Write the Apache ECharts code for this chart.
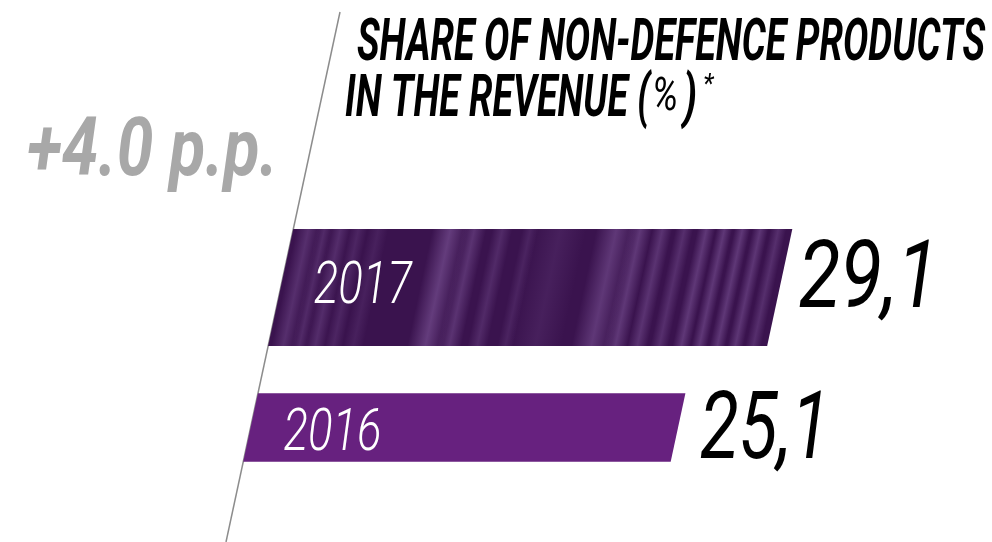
<!DOCTYPE html>
<html>
<head>
<meta charset="utf-8">
<script src="https://cdn.jsdelivr.net/npm/echarts@6/dist/echarts.min.js"></script>
<style>
    html, body { margin: 0; background: #fff; }
    #share-chart { width: 992px; height: 542px; }
</style>
</head>
<body>
<div id="share-chart"></div>
<script>
    // data
    var years = ['2016', '2017'];
    var shares = [25.1, 29.1];
    var shareLabels = ['25,1', '29,1'];
    var changeLabel = '+4.0 p.p.';
    var titleTop = 'SHARE OF NON-DEFENCE PRODUCTS';
    var titleBottom = 'IN THE REVENUE (';

    // look
    var slant = 0.215;          // px of x shift per px of y
    var yRef = 393;             // y where the slanted line meets grid.left
    var barRatio = [0.49, 0.836];
    var yearDy = [7, 0];
    var valueDy = [7, -4];
    var valueWidth = [130, 140];
    var barColor = '#67217f';

    var measureCtx = document.createElement('canvas').getContext('2d');
    function squeeze(text, font, width) {
        measureCtx.font = font;
        return width / measureCtx.measureText(text).width;
    }

    // textured fill for the 2017 bar (soft light folds on dark purple)
    function makeTexture() {
        var c = document.createElement('canvas');
        c.width = 992; c.height = 542;
        var ctx = c.getContext('2d');
        ctx.fillStyle = '#3a134e';
        ctx.fillRect(0, 0, 992, 542);
        var stripes = [
            [296, 12, 0.3], [312, 8, 0.25], [328, 10, 0.28], [346, 9, 0.2], [366, 10, 0.15],
            [438, 18, 0.45], [462, 12, 0.35], [490, 10, 0.25], [518, 8, 0.18], [548, 26, 0.14],
            [604, 20, 0.4], [628, 12, 0.4], [650, 10, 0.35], [672, 9, 0.3], [694, 9, 0.4],
            [712, 8, 0.4], [730, 8, 0.4], [748, 8, 0.38], [766, 8, 0.3]
        ];
        ctx.save();
        // skew so stripes lean like the bar edges
        ctx.transform(1, 0, -slant, 1, slant * 287, 0);
        stripes.forEach(function (s) {
            var g = ctx.createLinearGradient(s[0] - s[1], 0, s[0] + s[1], 0);
            g.addColorStop(0, 'rgba(150,110,180,0)');
            g.addColorStop(0.5, 'rgba(150,110,180,' + s[2] + ')');
            g.addColorStop(1, 'rgba(150,110,180,0)');
            ctx.fillStyle = g;
            ctx.fillRect(s[0] - s[1], 220, s[1] * 2, 136);
        });
        ctx.restore();
        return c;
    }
    var texture = makeTexture();

    var yearFont = 'italic 300 60px Roboto, "Noto Sans", sans-serif';
    var valueFont = 'italic 400 94px Roboto, "Noto Sans", sans-serif';
    var titleFont = 'italic 700 59px Roboto, "Noto Sans", sans-serif';
    var changeFont = 'italic 700 82px Roboto, "Noto Sans", sans-serif';

    function renderBar(params, api) {
        var idx = api.value(0);
        var val = api.value(1);
        var start = api.coord([0, idx]);
        var end = api.coord([val, idx]);
        var h = api.size([0, 1])[1] * barRatio[idx];
        var yc = start[1], top = yc - h / 2, bot = yc + h / 2;
        function sx(x, y) { return x + slant * (yRef - y); }
        var pts = [
            [sx(start[0], top), top], [sx(end[0], top) - 3 * (1 - idx), top],
            [sx(end[0], bot) - 3 * (1 - idx), bot], [sx(start[0], bot), bot]
        ];
        var fill = idx === 1 ? {image: texture, repeat: 'no-repeat'} : barColor;
        return {
            type: 'group',
            children: [
                {type: 'polygon', shape: {points: pts}, style: {fill: fill}},
                {
                    type: 'text', x: sx(start[0], yc) + 33, y: yc + yearDy[idx],
                    scaleX: squeeze(years[idx], yearFont, 98),
                    style: {text: years[idx], font: yearFont, fill: '#fff', verticalAlign: 'middle'}
                },
                {
                    type: 'text', x: sx(end[0], yc) + 19, y: yc + valueDy[idx],
                    scaleX: squeeze(shareLabels[idx], valueFont, valueWidth[idx]),
                    style: {text: shareLabels[idx], font: valueFont, fill: '#000', verticalAlign: 'middle'}
                }
            ]
        };
    }

    var chart = echarts.init(document.getElementById('share-chart'));
    chart.setOption({
        animation: false,
        grid: {left: 258, right: 48, top: 217.5, bottom: 44.5},
        xAxis: {type: 'value', min: 0, max: 40, show: false},
        yAxis: {type: 'category', data: years, show: false},
        graphic: [
            {
                type: 'line', shape: {x1: 340, y1: 12, x2: 226, y2: 542},
                style: {stroke: '#8c8c8c', lineWidth: 1.5}
            },
            {
                type: 'text', x: 27, y: 154, scaleX: squeeze(changeLabel, changeFont, 251),
                style: {text: changeLabel, font: changeFont, fill: '#a8a8a8', verticalAlign: 'middle'}
            },
            {
                type: 'text', x: 357, y: 45, scaleX: squeeze(titleTop, titleFont, 628),
                style: {text: titleTop, font: titleFont, fill: '#000', verticalAlign: 'middle'}
            },
            {
                type: 'text', x: 345, y: 101, scaleX: squeeze(titleBottom, titleFont, 305),
                style: {text: titleBottom, font: titleFont, fill: '#000', verticalAlign: 'middle'}
            },
            {
                type: 'text', x: 652, y: 98, scaleX: squeeze('%', 'italic 400 46px Roboto, sans-serif', 26),
                style: {text: '%', font: 'italic 400 46px Roboto, sans-serif', fill: '#000', verticalAlign: 'middle'}
            },
            {
                type: 'text', x: 683, y: 101, scaleX: 0.7,
                style: {text: ')', font: titleFont, fill: '#000', verticalAlign: 'middle'}
            },
            {
                type: 'text', x: 703, y: 86, scaleX: 0.9,
                style: {text: '*', font: 'italic 400 28px Roboto, sans-serif', fill: '#000', verticalAlign: 'middle'}
            }
        ],
        series: [{
            type: 'custom',
            renderItem: renderBar,
            encode: {x: 1, y: 0},
            data: shares.map(function (v, i) { return [i, v]; })
        }]
    });
</script>
</body>
</html>
